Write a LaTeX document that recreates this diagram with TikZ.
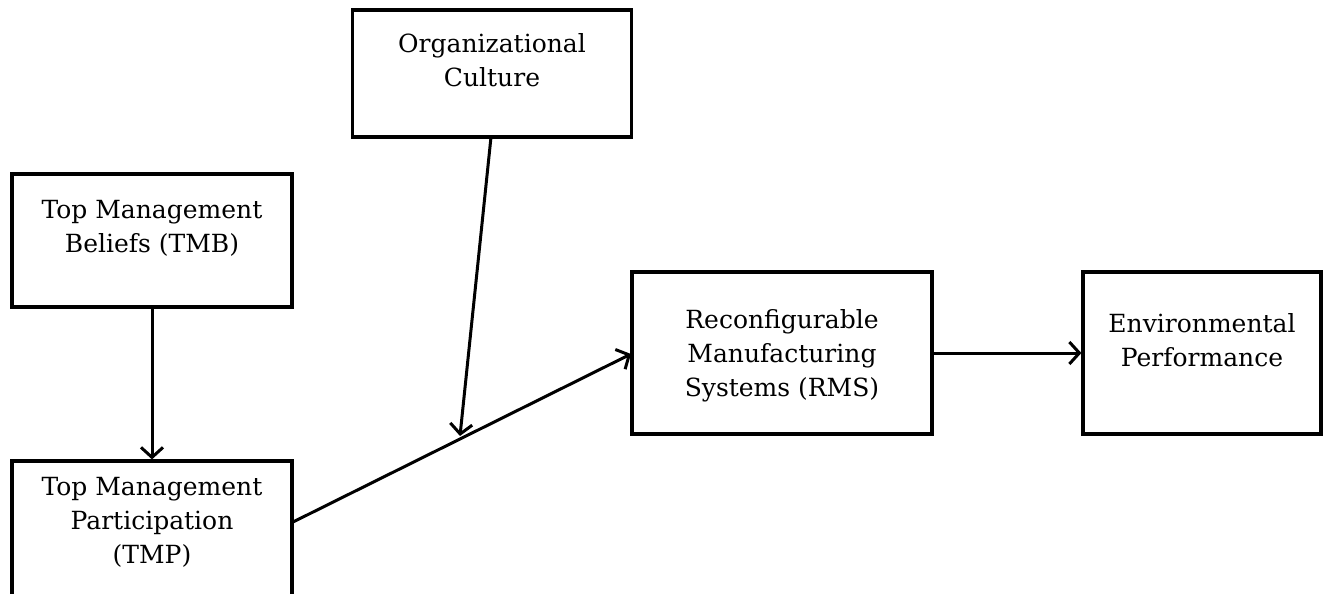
\documentclass[tikz,border=0pt]{standalone}
\usepackage{fontspec}
\setmainfont{DejaVu Serif}
\usetikzlibrary{arrows.meta}
\begin{document}
\begin{tikzpicture}[x=1pt,y=-1pt,
  box/.style={draw, line width=3.2pt, rectangle, inner sep=0pt},
  lbl/.style={align=center, font=\fontsize{25}{34}\selectfont, inner sep=0pt},
  conn/.style={line width=3pt, -{Straight Barb[length=10pt,width=22pt,line width=3pt]}}]
\useasboundingbox (0,0) rectangle (1331,594);
\begin{scope}
\clip (0,0) rectangle (1331,594);
\node[box, minimum width=279pt, minimum height=127pt] (oc) at (492,73.5) {};
\node[box, minimum width=280pt, minimum height=133pt] (tmb) at (152,240.5) {};
\node[box, minimum width=280pt, minimum height=140pt] (tmp) at (152,531) {};
\node[box, minimum width=300pt, minimum height=162pt] (rms) at (782,353) {};
\node[box, minimum width=238pt, minimum height=162pt] (ep) at (1202,353) {};
\end{scope}
\node[lbl] (toc) at (492,60) {Organizational\\Culture};
\node[lbl] (ttmb) at (152,228) {Top Management\\Beliefs (TMB)};
\node[lbl] (ttmp) at (152,522) {Top Management\\Participation\\(TMP)};
\node[lbl] (trms) at (782,356) {Reconfigurable\\Manufacturing\\Systems (RMS)};
\node[lbl] (tep) at (1202,340) {Environmental\\Performance};
\coordinate (tmpout) at (291,523);
\coordinate (rmsin) at (631,354);
\coordinate (ocout) at (491,137);
\coordinate (mid) at (460,436);
\draw[conn] (tmb.south) -- (tmp.north);
\draw[conn] (tmpout) -- (rmsin);
\draw[conn] (ocout) -- (mid);
\draw[conn] (rms.east) -- (ep.west);
\end{tikzpicture}
\end{document}
